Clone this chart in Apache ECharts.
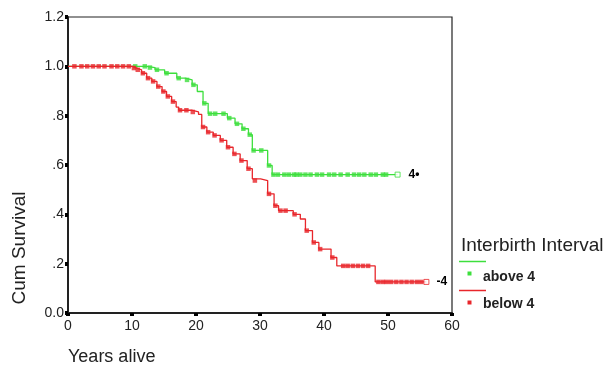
<!DOCTYPE html>
<html>
<head>
<meta charset="utf-8">
<script src="https://cdn.jsdelivr.net/npm/echarts@6/dist/echarts.min.js"></script>
<style>
html,body{margin:0;padding:0;background:#fff;}
#chart{width:607px;height:368px;}
</style>
</head>
<body>
<div id="chart"></div>
<script>
// ---- Data ----
var xTicks = [0, 10, 20, 30, 40, 50, 60];
var yTicks = [0, 0.2, 0.4, 0.6, 0.8, 1.0, 1.2];
var yTickLabels = ['0.0', '.2', '.4', '.6', '.8', '1.0', '1.2'];

// Interbirth interval above 4: step times and survival after each step
var aboveTimes = [0, 12.3, 13.6, 15.1, 17.0, 18.3, 19.4, 20.2, 21.1, 21.9, 24.9, 26.1, 27.2, 28.2, 28.8, 31.2, 31.9, 51.5];
var aboveSurv  = [1.0, 0.995, 0.986, 0.972, 0.952, 0.945, 0.925, 0.898, 0.85, 0.808, 0.79, 0.767, 0.747, 0.723, 0.659, 0.598, 0.561, 0.561];
var aboveCensorT = [10.5, 12.0, 12.8, 13.9, 15.4, 17.3, 18.6, 19.6, 21.3, 22.2, 23.0, 24.3, 25.2, 26.4, 27.4, 28.4, 29.0, 30.2, 31.4,
  32.1, 32.8, 33.8, 34.5, 35.3, 35.7, 36.3, 37.1, 37.9, 38.9, 39.7, 40.8, 41.6, 42.6, 43.7, 44.7, 45.5, 46.3, 47.3, 48.1, 49.2, 49.7, 51.5];
var aboveCensorS = [1.0, 1.0, 0.995, 0.986, 0.972, 0.952, 0.945, 0.925, 0.85, 0.808, 0.808, 0.808, 0.79, 0.767, 0.747, 0.723, 0.659, 0.659, 0.598,
  0.561, 0.561, 0.561, 0.561, 0.561, 0.561, 0.561, 0.561, 0.561, 0.561, 0.561, 0.561, 0.561, 0.561, 0.561, 0.561, 0.561, 0.561, 0.561, 0.561, 0.561, 0.561, 0.561];

// Interbirth interval below 4
var belowTimes = [0, 10.1, 10.7, 11.5, 12.3, 13.1, 13.9, 14.7, 15.4, 16.2, 16.9, 17.3, 19.3, 20.4, 20.9, 21.7, 22.7, 23.8, 24.8, 25.8, 26.9, 28.0, 28.8, 30.1, 31.2, 32.2, 32.9, 35.2, 36.3, 37.1, 38.2, 39.2, 41.1, 42.0, 48.0, 56.0];
var belowSurv  = [1.0, 0.993, 0.986, 0.972, 0.952, 0.939, 0.918, 0.898, 0.878, 0.857, 0.835, 0.822, 0.815, 0.805, 0.754, 0.733, 0.72, 0.70, 0.672, 0.645, 0.618, 0.585, 0.544, 0.537, 0.483, 0.435, 0.415, 0.40, 0.381, 0.334, 0.286, 0.259, 0.225, 0.191, 0.126, 0.126];
var belowCensorT = [1.0, 2.1, 3.0, 3.9, 4.8, 5.7, 6.8, 7.7, 8.6, 9.5,
  10.3, 10.9, 11.7, 12.5, 13.3, 14.1, 14.9, 15.6, 16.4, 17.5, 18.5, 19.5, 21.1, 21.9, 22.9, 24.0, 25.0, 26.0, 27.1, 28.2, 29.2, 31.4, 32.4, 33.2, 34.0, 35.4, 37.3, 38.4, 39.4, 41.3,
  43.0, 43.7, 44.5, 45.3, 46.1, 46.9,
  48.5, 49.2, 49.8, 50.5, 51.3, 52.1, 52.9, 53.7, 54.5, 55.2, 56.0];
var belowCensorS = [1, 1, 1, 1, 1, 1, 1, 1, 1, 1,
  0.993, 0.986, 0.972, 0.952, 0.939, 0.918, 0.898, 0.878, 0.857, 0.822, 0.822, 0.815, 0.754, 0.733, 0.72, 0.70, 0.672, 0.645, 0.618, 0.585, 0.537, 0.483, 0.435, 0.415, 0.415, 0.40, 0.334, 0.286, 0.259, 0.225,
  0.191, 0.191, 0.191, 0.191, 0.191, 0.191,
  0.126, 0.126, 0.126, 0.126, 0.126, 0.126, 0.126, 0.126, 0.126, 0.126, 0.126];

var seriesNames = ['above 4', 'below 4'];
var endLabels = ['4\u2022', '-4'];

// ---- Build ----
var GREEN = '#3ddf3d', RED = '#e8262b';
function zip(a, b) { return a.map(function (v, i) { return [v, b[i]]; }); }
function censorData(t, s, color) {
  return t.map(function (v, i) {
    var item = { value: [v, s[i]] };
    if (i === t.length - 1) {
      item.itemStyle = { color: '#fff', borderColor: color, borderWidth: 1 };
      item.symbolSize = 5;
    }
    return item;
  });
}
var FONT = '"Liberation Sans", Arial, sans-serif';
var chart = echarts.init(document.getElementById('chart'), null, { renderer: 'canvas' });
chart.setOption({
  animation: false,
  backgroundColor: '#fff',
  grid: { left: 68, right: 155, top: 17, bottom: 55, show: true, borderColor: '#222', borderWidth: 1.2, backgroundColor: 'transparent' },
  xAxis: {
    type: 'value', min: xTicks[0], max: xTicks[xTicks.length - 1], interval: 10,
    axisLine: { show: true, lineStyle: { color: '#222', width: 2 } },
    axisTick: { show: true, length: 3, lineStyle: { color: '#000', width: 4 } },
    axisLabel: { color: '#222', fontSize: 14, fontFamily: FONT, margin: 6 },
    splitLine: { show: false }
  },
  yAxis: {
    type: 'value', min: yTicks[0], max: yTicks[yTicks.length - 1], interval: 0.2,
    axisLine: { show: true, lineStyle: { color: '#222', width: 2 } },
    axisTick: { show: true, length: 3, lineStyle: { color: '#000', width: 4 } },
    axisLabel: {
      color: '#222', fontSize: 14, fontFamily: FONT, margin: 4,
      formatter: function (v) {
        var idx = yTicks.findIndex(function (t) { return Math.abs(t - v) < 1e-6; });
        return idx >= 0 ? yTickLabels[idx] : '';
      }
    },
    splitLine: { show: false }
  },
  series: [
    { name: seriesNames[0], type: 'line', step: 'end', data: zip(aboveTimes, aboveSurv), showSymbol: false,
      lineStyle: { color: GREEN, width: 1.3 }, z: 2,
      markPoint: { symbol: 'circle', symbolSize: 0, data: [{ coord: [aboveTimes[aboveTimes.length - 1], aboveSurv[aboveSurv.length - 1]],
        label: { show: true, formatter: endLabels[0], position: 'right', distance: 11, color: '#000', fontWeight: 'bold', fontSize: 12, fontFamily: FONT } }] } },
    { name: seriesNames[0] + ' censored', type: 'scatter', data: censorData(aboveCensorT, aboveCensorS, GREEN), symbol: 'rect', symbolSize: 4.5,
      itemStyle: { color: GREEN }, z: 3 },
    { name: seriesNames[1], type: 'line', step: 'end', data: zip(belowTimes, belowSurv), showSymbol: false,
      lineStyle: { color: RED, width: 1.3 }, z: 4,
      markPoint: { symbol: 'circle', symbolSize: 0, data: [{ coord: [belowTimes[belowTimes.length - 1], belowSurv[belowSurv.length - 1]],
        label: { show: true, formatter: endLabels[1], position: 'right', distance: 10, color: '#000', fontWeight: 'bold', fontSize: 12, fontFamily: FONT } }] } },
    { name: seriesNames[1] + ' censored', type: 'scatter', data: censorData(belowCensorT, belowCensorS, RED), symbol: 'rect', symbolSize: 4.5,
      itemStyle: { color: RED }, z: 5 }
  ],
  graphic: [
    { type: 'text', x: 20, y: 248, rotation: Math.PI / 2,
      style: { text: 'Cum Survival', fill: '#222', font: '19px ' + FONT, textAlign: 'center', textVerticalAlign: 'middle' } },
    { type: 'text', x: 68, y: 357,
      style: { text: 'Years alive', fill: '#222', font: '18px ' + FONT, textAlign: 'left', textVerticalAlign: 'middle' } },
    { type: 'text', x: 461, y: 246,
      style: { text: 'Interbirth Interval', fill: '#222', font: '19px ' + FONT, textAlign: 'left', textVerticalAlign: 'middle' } },
    { type: 'line', shape: { x1: 459, y1: 261.5, x2: 486, y2: 261.5 }, style: { stroke: GREEN, lineWidth: 1.5 } },
    { type: 'rect', shape: { x: 467.5, y: 271.5, width: 4, height: 4 }, style: { fill: GREEN } },
    { type: 'text', x: 483, y: 277.5,
      style: { text: seriesNames[0], fill: '#222', font: 'bold 14px ' + FONT, textAlign: 'left', textVerticalAlign: 'middle' } },
    { type: 'line', shape: { x1: 459, y1: 290.5, x2: 486, y2: 290.5 }, style: { stroke: RED, lineWidth: 1.5 } },
    { type: 'rect', shape: { x: 467.5, y: 300.5, width: 4, height: 4 }, style: { fill: RED } },
    { type: 'text', x: 483, y: 304,
      style: { text: seriesNames[1], fill: '#222', font: 'bold 14px ' + FONT, textAlign: 'left', textVerticalAlign: 'middle' } }
  ]
});
</script>
</body>
</html>
